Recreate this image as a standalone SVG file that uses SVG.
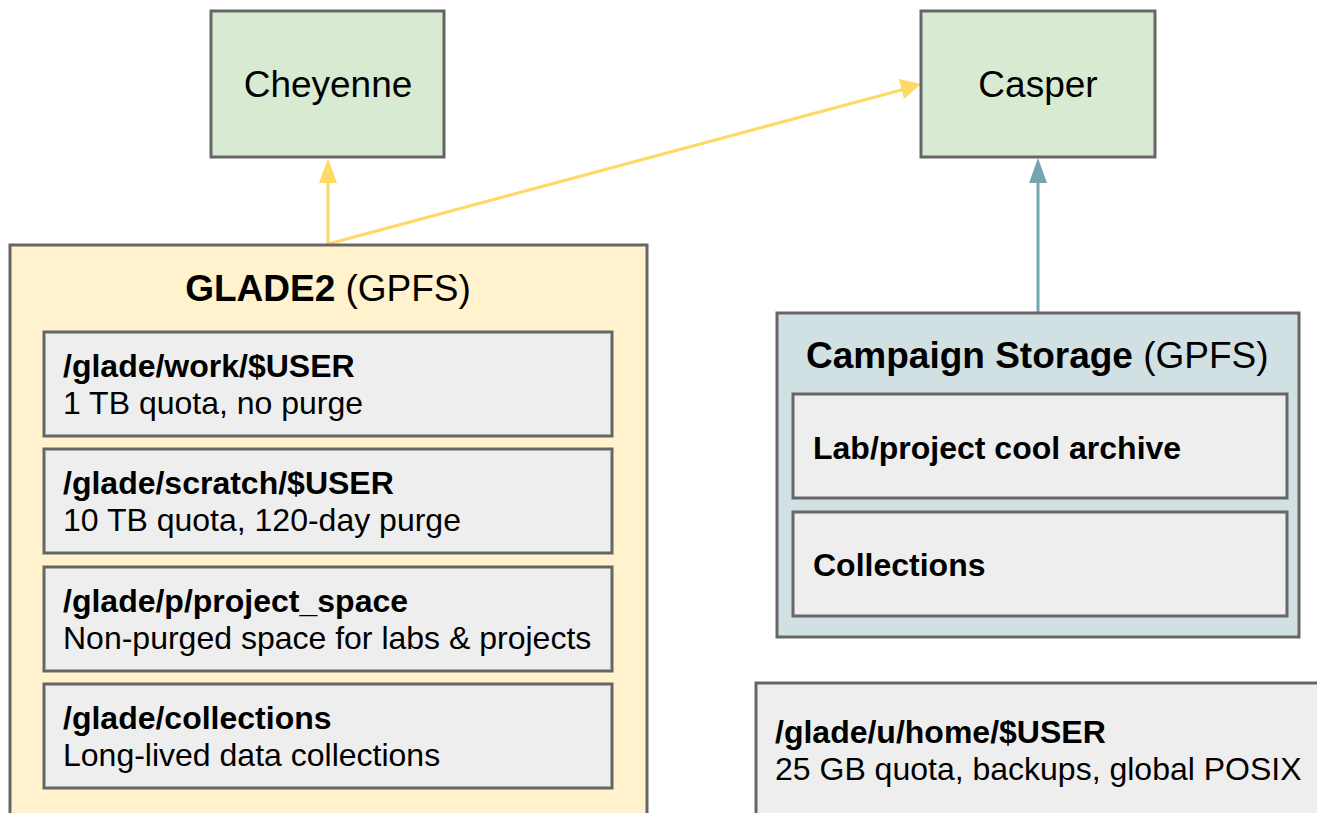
<svg xmlns="http://www.w3.org/2000/svg" width="1317" height="813" viewBox="0 0 1317 813">
<defs>
<style>
.box{stroke:#666666;stroke-width:3}
.t{font-family:"Liberation Sans",Arial,sans-serif;fill:#000}
.b{font-weight:bold}
.s{font-size:32px}
.h{font-size:37px}
.inner{fill:#eeeeee;stroke:#666666;stroke-width:3}
</style>
</defs>
<rect width="1317" height="813" fill="#ffffff"/>
<g id="connectors">
<line x1="328" y1="244" x2="328" y2="170" stroke="#ffd966" stroke-width="3"/>
<path d="M319,183 L328,158 L337,183 z" fill="#ffd966"/>
<line x1="328" y1="244" x2="905" y2="89" stroke="#ffd966" stroke-width="3"/>
<path d="M899,79 L921,84 L904,99 z" fill="#ffd966"/>
<line x1="1038" y1="312" x2="1038" y2="175" stroke="#76a5af" stroke-width="3"/>
<path d="M1029,183 L1038,158 L1047,183 z" fill="#76a5af"/>
</g>
<g id="cheyenne">
<rect class="box" x="211" y="11" width="233" height="146" fill="#d9ead3"/>
<text class="t h" x="328" y="97" text-anchor="middle">Cheyenne</text>
</g>
<g id="casper">
<rect class="box" x="921" y="11" width="234" height="146" fill="#d9ead3"/>
<text class="t h" x="1038" y="97" text-anchor="middle">Casper</text>
</g>
<g id="glade2">
<rect class="box" x="10" y="245" width="637" height="580" fill="#fff2cc"/>
<text class="t h" x="328" y="301" text-anchor="middle"><tspan class="b">GLADE2</tspan> (GPFS)</text>
</g>
<g id="glade-work">
<rect class="inner" x="44" y="332" width="568" height="104"/>
<text class="t b s" x="63" y="377">/glade/work/$USER</text>
<text class="t s" x="63" y="414">1 TB quota, no purge</text>
</g>
<g id="glade-scratch">
<rect class="inner" x="44" y="449" width="568" height="104"/>
<text class="t b s" x="63" y="494">/glade/scratch/$USER</text>
<text class="t s" x="63" y="531">10 TB quota, 120-day purge</text>
</g>
<g id="glade-project">
<rect class="inner" x="44" y="567" width="568" height="104"/>
<text class="t b s" x="63" y="612">/glade/p/project_space</text>
<text class="t s" x="63" y="649">Non-purged space for labs &amp; projects</text>
</g>
<g id="glade-collections">
<rect class="inner" x="44" y="684" width="568" height="104"/>
<text class="t b s" x="63" y="729">/glade/collections</text>
<text class="t s" x="63" y="766">Long-lived data collections</text>
</g>
<g id="campaign">
<rect class="box" x="777" y="313" width="522" height="324" fill="#d0e0e3"/>
<text class="t h" x="806" y="368"><tspan class="b">Campaign Storage</tspan> (GPFS)</text>
</g>
<g id="campaign-archive">
<rect class="inner" x="793" y="394" width="494" height="104"/>
<text class="t b s" x="813" y="459">Lab/project cool archive</text>
</g>
<g id="campaign-collections">
<rect class="inner" x="793" y="512" width="494" height="104"/>
<text class="t b s" x="813" y="576">Collections</text>
</g>
<g id="home">
<rect class="inner" x="756" y="683" width="580" height="150"/>
<text class="t b s" x="775" y="743">/glade/u/home/$USER</text>
<text class="t s" x="775" y="780">25 GB quota, backups, global POSIX</text>
</g>
</svg>
